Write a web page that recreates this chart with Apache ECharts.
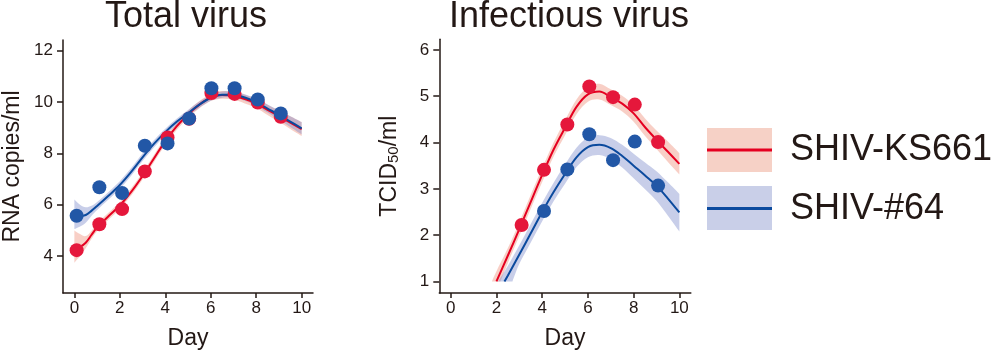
<!DOCTYPE html>
<html>
<head>
<meta charset="utf-8">
<script src="https://cdn.jsdelivr.net/npm/echarts/dist/echarts.min.js"></script>
<style>html,body{margin:0;padding:0;background:#fff}#c{width:1000px;height:355px}</style>
</head>
<body>
<div id="c"></div>
<script>
// ---- tick labels ----
const dayTicks = [0, 2, 4, 6, 8, 10];
const totalTicks = [4, 6, 8, 10, 12];
const infTicks = [1, 2, 3, 4, 5, 6];

// ---- Total virus: observed points ----
const totalDays = [0.1, 1.1, 2.1, 3.1, 4.1, 5.05, 6.03, 7.05, 8.07, 9.08];
const totalKS661 = [4.23, 5.24, 5.83, 7.30, 8.62, 9.35, 10.35, 10.32, 9.98, 9.43];
const total64 = [5.57, 6.68, 6.46, 8.30, 8.39, 9.36, 10.54, 10.54, 10.10, 9.56];

// ---- Total virus: fitted curves [day, value] ----
const totalKS661Fit = [[0,4.28],[0.25,4.36],[0.5,4.52],[0.75,4.82],[1,5.12],[1.5,5.55],[2,5.97],[2.5,6.5],[3,7.12],[3.5,7.8],[4,8.48],[4.5,9.05],[5,9.52],[5.5,9.9],[6,10.18],[6.5,10.28],[7,10.25],[7.5,10.12],[8,9.95],[8.5,9.7],[9,9.45],[9.5,9.2],[10,8.95]];
const totalKS661Upper = [[0,5.0],[0.25,4.86],[0.5,4.78],[0.75,4.98],[1,5.27],[1.5,5.69],[2,6.11],[2.5,6.64],[3,7.26],[3.5,7.94],[4,8.62],[4.5,9.19],[5,9.66],[5.5,10.04],[6,10.32],[6.5,10.43],[7,10.41],[7.5,10.29],[8,10.13],[8.5,9.9],[9,9.67],[9.5,9.45],[10,9.22]];
const totalKS661Lower = [[0,3.74],[0.25,4.0],[0.5,4.3],[0.75,4.66],[1,4.97],[1.5,5.41],[2,5.83],[2.5,6.36],[3,6.98],[3.5,7.66],[4,8.34],[4.5,8.91],[5,9.38],[5.5,9.76],[6,10.04],[6.5,10.13],[7,10.09],[7.5,9.95],[8,9.77],[8.5,9.5],[9,9.23],[9.5,8.95],[10,8.68]];
const total64Fit = [[0,5.6],[0.25,5.56],[0.5,5.6],[0.75,5.76],[1,5.95],[1.5,6.35],[2,6.77],[2.5,7.28],[3,7.85],[3.5,8.37],[4,8.83],[4.5,9.23],[5,9.57],[5.5,9.9],[6,10.17],[6.5,10.29],[7,10.29],[7.5,10.18],[8,10.0],[8.5,9.75],[9,9.5],[9.5,9.24],[10,8.98]];
const total64Upper = [[0,6.2],[0.25,6.0],[0.5,5.9],[0.75,5.96],[1,6.11],[1.5,6.5],[2,6.92],[2.5,7.43],[3,8.0],[3.5,8.51],[4,8.96],[4.5,9.35],[5,9.69],[5.5,10.02],[6,10.29],[6.5,10.41],[7,10.41],[7.5,10.31],[8,10.14],[8.5,9.91],[9,9.68],[9.5,9.45],[10,9.22]];
const total64Lower = [[0,5.05],[0.25,5.15],[0.5,5.3],[0.75,5.56],[1,5.79],[1.5,6.2],[2,6.62],[2.5,7.13],[3,7.7],[3.5,8.23],[4,8.7],[4.5,9.11],[5,9.45],[5.5,9.78],[6,10.05],[6.5,10.17],[7,10.17],[7.5,10.05],[8,9.86],[8.5,9.59],[9,9.32],[9.5,9.03],[10,8.74]];

// ---- Infectious virus: observed points ----
const infDaysKS661 = [3.1, 4.08, 5.1, 6.06, 7.1, 8.05, 9.07];
const infKS661 = [2.22, 3.41, 4.39, 5.21, 4.98, 4.82, 4.01];
const infDays64 = [4.08, 5.1, 6.06, 7.1, 8.05, 9.07];
const inf64 = [2.52, 3.42, 4.18, 3.62, 4.02, 3.07];

// ---- Infectious virus: fitted curves [day, value] ----
const infKS661Fit = [[2.0,1.0],[2.5,1.56],[3,2.13],[3.5,2.72],[4,3.3],[4.5,3.85],[5,4.32],[5.5,4.77],[6,5.04],[6.5,5.1],[7,4.98],[7.5,4.84],[8,4.63],[8.5,4.33],[9,4.06],[9.5,3.8],[10,3.54]];
const infKS661Upper = [[1.8,1.0],[2,1.22],[2.5,1.72],[3,2.28],[3.5,2.87],[4,3.45],[4.5,4.0],[5,4.48],[5.5,4.93],[6,5.2],[6.5,5.27],[7,5.15],[7.5,5.01],[8,4.81],[8.5,4.52],[9,4.26],[9.5,4.02],[10,3.77]];
const infKS661Lower = [[2.17,1.0],[2.5,1.4],[3,1.98],[3.5,2.57],[4,3.15],[4.5,3.7],[5,4.16],[5.5,4.61],[6,4.88],[6.5,4.93],[7,4.81],[7.5,4.67],[8,4.45],[8.5,4.14],[9,3.86],[9.5,3.58],[10,3.31]];
const inf64Fit = [[2.35,1.0],[2.5,1.13],[3,1.58],[3.5,2.04],[4,2.5],[4.5,2.93],[5,3.32],[5.5,3.68],[6,3.9],[6.5,3.95],[7,3.88],[7.5,3.71],[8,3.5],[8.5,3.29],[9,3.07],[9.5,2.79],[10,2.49]];
const inf64Upper = [[2.07,1.0],[2.5,1.34],[3,1.78],[3.5,2.24],[4,2.7],[4.5,3.13],[5,3.53],[5.5,3.89],[6,4.11],[6.5,4.16],[7,4.1],[7.5,3.95],[8,3.76],[8.5,3.57],[9,3.38],[9.5,3.14],[10,2.89]];
const inf64Lower = [[2.7,1.0],[3,1.38],[3.5,1.84],[4,2.3],[4.5,2.73],[5,3.11],[5.5,3.47],[6,3.68],[6.5,3.73],[7,3.64],[7.5,3.46],[8,3.23],[8.5,2.99],[9,2.74],[9.5,2.42],[10,2.08]];

const seriesNames = ['SHIV-KS661', 'SHIV-#64'];

// ---- styles ----
const TEXT = '#231815';
const FONT = '"Liberation Sans", Arial, Helvetica, sans-serif';
const RED_LINE = '#e50020';
const BLUE_LINE = '#0b4a9e';
const RED_PT = '#e5173b';
const BLUE_PT = '#2257a6';
const RED_BAND = 'rgba(238,140,118,0.42)';
const BLUE_BAND = 'rgba(118,132,200,0.40)';
const RED_PATCH = '#f6d1c6';
const BLUE_PATCH = '#c9cfe8';

function spline(p) {
  let s = '';
  for (let i = 0; i < p.length - 1; i++) {
    const p0 = p[i - 1] || p[i], p1 = p[i], p2 = p[i + 1], p3 = p[i + 2] || p[i + 1];
    const c1x = p1[0] + (p2[0] - p0[0]) / 6, c1y = p1[1] + (p2[1] - p0[1]) / 6;
    const c2x = p2[0] - (p3[0] - p1[0]) / 6, c2y = p2[1] - (p3[1] - p1[1]) / 6;
    s += ' C' + c1x + ',' + c1y + ' ' + c2x + ',' + c2y + ' ' + p2[0] + ',' + p2[1];
  }
  return s;
}

function band(ix, upper, lower, color) {
  return {
    type: 'custom', xAxisIndex: ix, yAxisIndex: ix, silent: true, z: 1,
    data: [upper[1]],
    renderItem: function (params, api) {
      const up = upper.map(p => api.coord(p));
      const lo = lower.map(p => api.coord(p)).reverse();
      const d = 'M' + up[0][0] + ',' + up[0][1] + spline(up) +
        ' L' + lo[0][0] + ',' + lo[0][1] + spline(lo) + ' Z';
      return { type: 'path', shape: { pathData: d }, style: { fill: color } };
    }
  };
}

function fit(ix, name, data, color) {
  return {
    type: 'line', name: name, xAxisIndex: ix, yAxisIndex: ix, data: data,
    smooth: 0.35, showSymbol: false, silent: true, z: 2,
    lineStyle: { color: color, width: 2 }
  };
}

function pts(ix, name, days, vals, color, z) {
  return {
    type: 'scatter', name: name, xAxisIndex: ix, yAxisIndex: ix,
    data: days.map((d, i) => [d, vals[i]]),
    symbolSize: 14, itemStyle: { color: color, opacity: 1 }, z: z
  };
}

const axisLine = { show: true, onZero: false, lineStyle: { color: TEXT, width: 1.5 } };

function xAx(ix) {
  return {
    type: 'value', gridIndex: ix, min: -0.5, max: 10.5,
    axisLine: axisLine,
    axisTick: { show: true, length: 5, customValues: dayTicks, lineStyle: { color: TEXT, width: 1.5 } },
    axisLabel: { customValues: dayTicks, fontSize: 17, color: TEXT, fontFamily: FONT, margin: 7 },
    splitLine: { show: false },
    name: 'Day', nameLocation: 'middle', nameGap: 34,
    nameTextStyle: { fontSize: 23, color: TEXT, fontFamily: FONT }
  };
}

const option = {
  animation: false,
  backgroundColor: '#ffffff',
  textStyle: { fontFamily: FONT },
  grid: [
    { left: 61.9, top: 40, width: 251.1, height: 257.5 },
    { left: 439.3, top: 39.3, width: 251.5, height: 258.2 }
  ],
  xAxis: [xAx(0), xAx(1)],
  yAxis: [
    {
      type: 'value', gridIndex: 0, min: 2.56, max: 12.42,
      axisLine: axisLine,
      axisTick: { show: true, length: 6, customValues: totalTicks, lineStyle: { color: TEXT, width: 1.5 } },
      axisLabel: { customValues: totalTicks, fontSize: 17, color: TEXT, fontFamily: FONT, margin: 10 },
      splitLine: { show: false },
      name: 'RNA copies/ml', nameLocation: 'middle', nameGap: 39,
      nameTextStyle: { fontSize: 23, color: TEXT, fontFamily: FONT }
    },
    {
      type: 'value', gridIndex: 1, min: 0.75, max: 6.23,
      axisLine: axisLine,
      axisTick: { show: true, length: 6, customValues: infTicks, lineStyle: { color: TEXT, width: 1.5 } },
      axisLabel: { customValues: infTicks, fontSize: 17, color: TEXT, fontFamily: FONT, margin: 10 },
      splitLine: { show: false },
      name: '{a|TCID}{b|50}{a|/ml}', nameLocation: 'middle', nameGap: 38,
      nameTextStyle: {
        fontSize: 23, color: TEXT, fontFamily: FONT,
        rich: {
          a: { fontSize: 23, color: TEXT, fontFamily: FONT },
          b: { fontSize: 15, color: TEXT, fontFamily: FONT, verticalAlign: 'bottom' }
        }
      }
    }
  ],
  graphic: [
    { type: 'text', x: 186, y: 17, style: { text: 'Total virus', fontSize: 36, fontFamily: FONT, fill: TEXT, align: 'center', verticalAlign: 'middle' } },
    { type: 'text', x: 569, y: 17, style: { text: 'Infectious virus', fontSize: 36, fontFamily: FONT, fill: TEXT, align: 'center', verticalAlign: 'middle' } },
    { type: 'rect', shape: { x: 707, y: 128, width: 65, height: 44 }, style: { fill: RED_PATCH } },
    { type: 'line', shape: { x1: 707, y1: 150, x2: 772, y2: 150 }, style: { stroke: RED_LINE, lineWidth: 3 } },
    { type: 'rect', shape: { x: 707, y: 186, width: 65, height: 44 }, style: { fill: BLUE_PATCH } },
    { type: 'line', shape: { x1: 707, y1: 208.5, x2: 772, y2: 208.5 }, style: { stroke: BLUE_LINE, lineWidth: 3 } },
    { type: 'text', x: 790, y: 150, style: { text: seriesNames[0], fontSize: 36, fontFamily: FONT, fill: TEXT, align: 'left', verticalAlign: 'middle' } },
    { type: 'text', x: 790, y: 209, style: { text: seriesNames[1], fontSize: 36, fontFamily: FONT, fill: TEXT, align: 'left', verticalAlign: 'middle' } }
  ],
  series: [
    band(0, totalKS661Upper, totalKS661Lower, RED_BAND),
    band(0, total64Upper, total64Lower, BLUE_BAND),
    fit(0, seriesNames[0], totalKS661Fit, RED_LINE),
    fit(0, seriesNames[1], total64Fit, BLUE_LINE),
    pts(0, seriesNames[0], totalDays, totalKS661, RED_PT, 3),
    pts(0, seriesNames[1], totalDays, total64, BLUE_PT, 4),
    band(1, infKS661Upper, infKS661Lower, RED_BAND),
    band(1, inf64Upper, inf64Lower, BLUE_BAND),
    fit(1, seriesNames[0], infKS661Fit, RED_LINE),
    fit(1, seriesNames[1], inf64Fit, BLUE_LINE),
    pts(1, seriesNames[0], infDaysKS661, infKS661, RED_PT, 3),
    pts(1, seriesNames[1], infDays64, inf64, BLUE_PT, 4)
  ]
};

const chart = echarts.init(document.getElementById('c'), null, { renderer: 'canvas' });
chart.setOption(option);
</script>
</body>
</html>
